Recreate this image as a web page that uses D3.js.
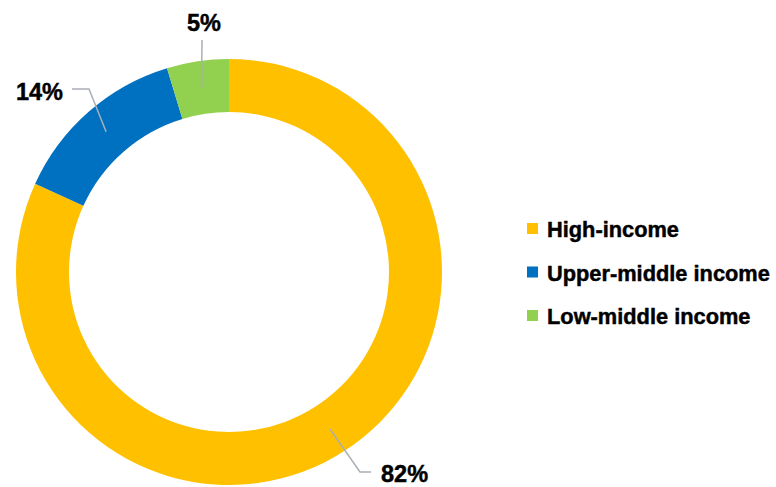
<!DOCTYPE html>
<html>
<head>
<meta charset="utf-8">
<script src="https://cdn.jsdelivr.net/npm/d3@7"></script>
<style>
  html, body { margin: 0; padding: 0; background: #fff; }
  svg { display: block; }
  text { font-family: "Liberation Sans", Arial, sans-serif; font-weight: bold; fill: #000; stroke: #000; stroke-width: 0.45px; }
</style>
</head>
<body>
<svg id="chart" width="776" height="487"></svg>
<script>
// Share of total by income group (percent)
const categories = ["High-income", "Upper-middle income", "Low-middle income"];
const shares = [81.8, 13.5, 4.7];
const colors = ["#FFC000", "#0070C0", "#92D050"];

const width = 776, height = 487;
const cx = 229, cy = 272;
const outerR = 213, innerR = 160;

const svg = d3.select("#chart");
const g = svg.append("g").attr("transform", `translate(${cx},${cy})`);

const pie = d3.pie().sort(null).value(d => d.value).startAngle(0).endAngle(2 * Math.PI);
const arcs = pie(categories.map((c, i) => ({ name: c, value: shares[i], color: colors[i] })));

const arc = d3.arc().innerRadius(innerR).outerRadius(outerR);

g.selectAll("path.slice")
  .data(arcs)
  .join("path")
  .attr("class", "slice")
  .attr("d", arc)
  .attr("fill", d => d.data.color);

// Leader-line routing for each label: elbow + end points relative to the centre, and text anchor
const labelLayout = [
  { elbow: [131, 200], end: [142, 200], text: [152, 210], anchor: "start" },
  { elbow: [-140, -183], end: [-157, -183], text: [-166, -172], anchor: "end" },
  { elbow: [-27, -232], end: [-27, -232], text: [-25, -241], anchor: "middle" }
];

arcs.forEach((d, i) => {
  const c = arc.centroid(d);
  const L = labelLayout[i];
  g.append("polyline")
    .attr("points", [c, L.elbow, L.end].map(p => p.join(",")).join(" "))
    .attr("fill", "none")
    .attr("stroke", "#A9AEB7")
    .attr("stroke-width", 1.5);
  g.append("text")
    .attr("x", L.text[0])
    .attr("y", L.text[1])
    .attr("text-anchor", L.anchor)
    .attr("font-size", 23.5)
    .text(Math.round(d.data.value) + "%");
});

// Legend
const legend = svg.append("g").attr("transform", "translate(527,237)");
const rowGap = 43.5;
categories.forEach((c, i) => {
  const row = legend.append("g").attr("transform", `translate(0,${i * rowGap})`);
  row.append("rect")
    .attr("x", 0).attr("y", -14)
    .attr("width", 11).attr("height", 11)
    .attr("fill", colors[i]);
  row.append("text")
    .attr("x", 20).attr("y", 0)
    .attr("font-size", 21.8)
    .text(c);
});
</script>
</body>
</html>
